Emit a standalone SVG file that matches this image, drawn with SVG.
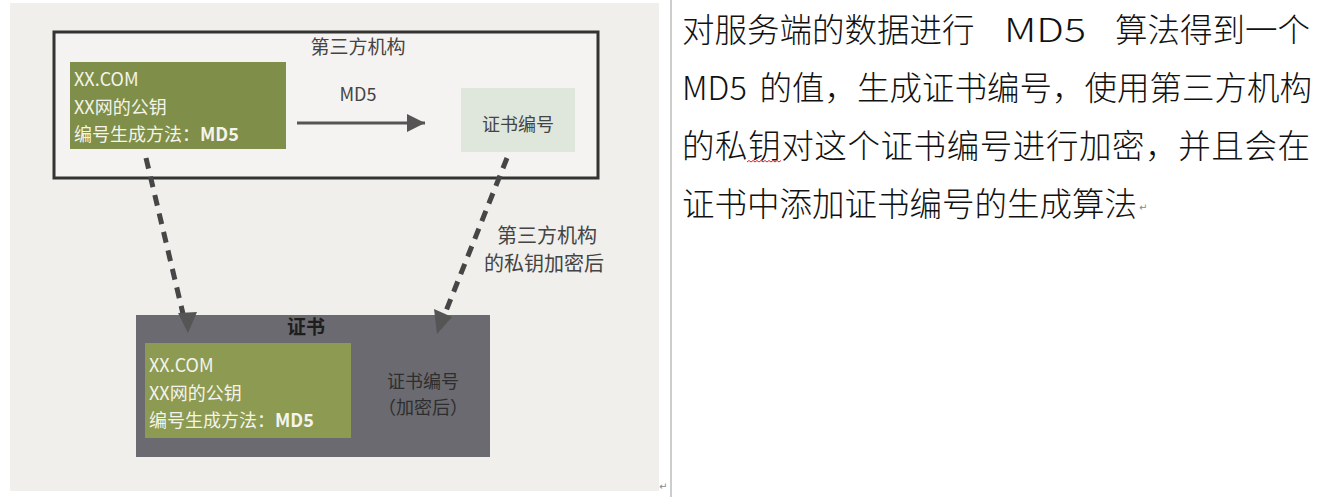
<svg xmlns="http://www.w3.org/2000/svg" width="1322" height="497" viewBox="0 0 1322 497">
<style>
.cjk{font-family:"Noto Sans CJK SC","Noto Sans",sans-serif}
.gt{font-family:"Noto Sans CJK SC","Noto Sans",sans-serif;font-size:18px;fill:#f4f4ec}
.lbl{font-family:"Noto Sans CJK SC","Noto Sans",sans-serif;fill:#444}
.body{font-family:"Noto Sans CJK SC","Noto Sans",sans-serif;font-size:32.5px;font-weight:300;fill:#111}
.dash{stroke:#464646;stroke-width:5;stroke-dasharray:11 8;fill:none}
.ret{font-family:"DejaVu Sans",sans-serif;font-size:10px;fill:#888}
</style>
<defs>
<marker id="ah" markerUnits="userSpaceOnUse" markerWidth="22" markerHeight="22" refX="18" refY="9" orient="auto">
<path d="M0,0 L18,9 L0,18 z" fill="#555"/>
</marker>
</defs>
<rect x="0" y="0" width="1322" height="497" fill="#ffffff"/>
<rect x="10" y="3" width="649" height="488" fill="#f0efec"/>
<line x1="671" y1="0" x2="671" y2="497" stroke="#bdbdbd" stroke-width="1.5"/>

<g id="third-party">
<rect x="54" y="32" width="544" height="146" fill="#f4f3f1" stroke="#333" stroke-width="3"/>
<text class="lbl" x="358" y="54" font-size="19" text-anchor="middle">第三方机构</text>
</g>

<g id="server-info">
<rect x="70" y="62" width="216" height="87" fill="#7f8e48"/>
<text class="gt" x="74" y="86">XX.COM</text>
<text class="gt" x="74" y="114">XX网的公钥</text>
<text class="gt" x="74" y="141">编号生成方法：<tspan font-weight="bold">MD5</tspan></text>
</g>

<g id="cert-number">
<rect x="461" y="88" width="114" height="64" fill="#dfe6dc"/>
<text class="lbl" x="518" y="131" font-size="18" text-anchor="middle" fill="#333">证书编号</text>
</g>

<g id="certificate">
<rect x="136" y="315" width="354" height="142" fill="#6a6a70"/>
<text class="cjk" x="306" y="334" font-size="19" font-weight="bold" fill="#1e1e1e" text-anchor="middle">证书</text>
<rect x="145" y="343" width="206" height="95" fill="#8c9a52"/>
<text class="gt" x="149" y="372">XX.COM</text>
<text class="gt" x="149" y="400">XX网的公钥</text>
<text class="gt" x="149" y="427">编号生成方法：<tspan font-weight="bold">MD5</tspan></text>
<text class="cjk" x="423" y="388" font-size="18" fill="#2e2e2e" text-anchor="middle">证书编号</text>
<text class="cjk" x="423" y="414" font-size="18" fill="#2e2e2e" text-anchor="middle">（加密后）</text>
</g>

<g id="connectors">
<line x1="297" y1="123" x2="425" y2="123" stroke="#555" stroke-width="3" marker-end="url(#ah)"/>
<text class="lbl" x="358" y="101" font-size="18" text-anchor="middle">MD5</text>
<line class="dash" x1="146" y1="158" x2="184" y2="318"/>
<path d="M178,313 L197,312 L188,333 z" fill="#555"/>
<line class="dash" x1="507" y1="158" x2="444" y2="316"/>
<path d="M434,309 L452,317 L437,334 z" fill="#555"/>
<text class="lbl" x="497" y="243" font-size="20">第三方机构</text>
<text class="lbl" x="484" y="271" font-size="20">的私钥加密后</text>
</g>

<text class="ret" x="659" y="490">↵</text>

<g id="description">
<text class="body" x="682" y="42">对服务端的数据进行</text>
<text class="body" x="1004" y="42" textLength="82" lengthAdjust="spacingAndGlyphs">MD5</text>
<text class="body" x="1310" y="42" text-anchor="end">算法得到一个</text>
<text class="body" x="682" y="100">MD5</text>
<text class="body" x="1312" y="100" text-anchor="end">的值，生成证书编号，使用第三方机构</text>
<text class="body" x="682" y="158" textLength="628" lengthAdjust="spacing">的私钥对这个证书编号进行加密，并且会在</text>
<path d="M747,162 l2,-1.5 l2,1.5 l2,-1.5 l2,1.5 l2,-1.5 l2,1.5 l2,-1.5 l2,1.5 l2,-1.5 l2,1.5 l2,-1.5 l2,1.5 l2,-1.5 l2,1.5 l2,-1.5 l2,1.5 l2,-1.5" fill="none" stroke="#e02020" stroke-width="1"/>
<text class="body" x="682" y="216">证书中添加证书编号的生成算法</text>
<text class="ret" x="1139" y="211">↵</text>
</g>
</svg>
